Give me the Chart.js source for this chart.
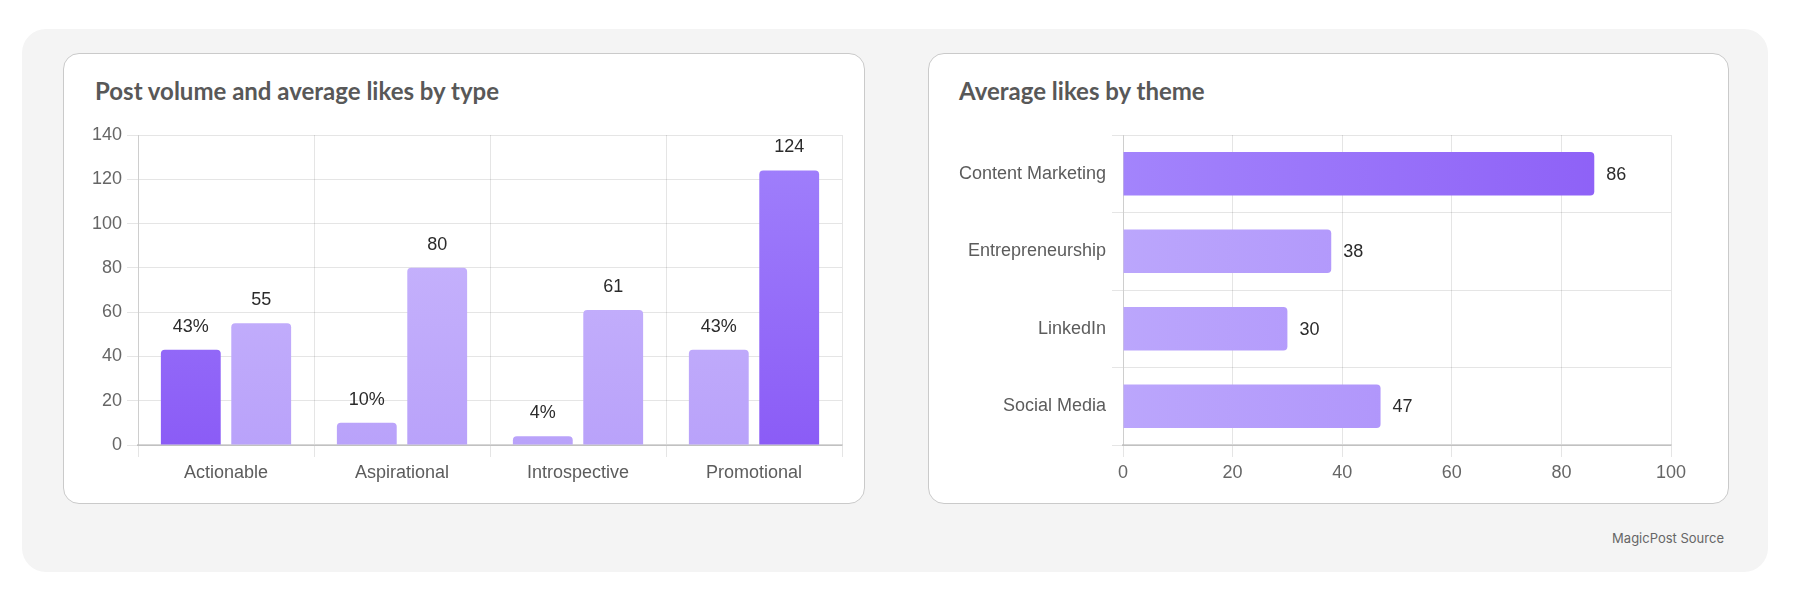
<!DOCTYPE html>
<html>
<head>
<meta charset="utf-8">
<script src="https://cdn.jsdelivr.net/npm/chart.js@4.4.1/dist/chart.umd.min.js"></script>
<style>
  html, body { margin: 0; padding: 0; background: #fff; }
  body { width: 1806px; height: 608px; position: relative; overflow: hidden; }
  .panel { position: absolute; left: 22px; top: 29px; width: 1746px; height: 543px; background: #f4f4f4; border-radius: 24px; }
  .card { position: absolute; top: 53px; height: 451px; background: #fff; border: 1.5px solid #cacaca; border-radius: 16px; box-sizing: border-box; }
  .title { position: absolute; font-family: Lato, "Open Sans", sans-serif; font-weight: 700; font-size: 24px; color: #585858; line-height: 30px; margin: 0; white-space: nowrap; }
  .chartbox { position: absolute; top: 115px; width: 785px; height: 385px; }
  .source { position: absolute; right: 82px; top: 529px; font-family: Inter, Roboto, sans-serif; font-size: 13px; color: #666; line-height: 18px; }
</style>
</head>
<body>
<div class="panel"></div>
<div class="card" style="left:63px; width:802px;"></div>
<div class="card" style="left:928px; width:801px;"></div>
<h2 class="title" style="left:95px; top:76px;">Post volume and average likes by type</h2>
<h2 class="title" style="left:959px; top:76px;">Average likes by theme</h2>
<div class="chartbox" style="left:70px;"><canvas id="typeChart"></canvas></div>
<div class="chartbox" style="left:935px;"><canvas id="themeChart"></canvas></div>
<div class="source">MagicPost Source</div>

<script>
// data
var postTypes = ['Actionable', 'Aspirational', 'Introspective', 'Promotional'];
var postVolumePct = [43, 10, 4, 43];
var avgLikesByType = [55, 80, 61, 124];
var volumeHighlight = [true, false, false, false];
var likesHighlight = [false, false, false, true];

var themes = ['Content Marketing', 'Entrepreneurship', 'LinkedIn', 'Social Media'];
var avgLikesByTheme = [86, 38, 30, 47];
var themeHighlight = [true, false, false, false];

var typeAxisMax = 140;
var themeAxisMax = 100;
var tickStep = 20;

Chart.defaults.font.family = '"Liberation Sans", Arial, Helvetica, sans-serif';
Chart.defaults.font.size = 18;
Chart.defaults.color = '#666';
Chart.defaults.animation = false;

function verticalFill(highlight) {
    return function (ctx) {
        var area = ctx.chart.chartArea;
        var dark = highlight[ctx.dataIndex];
        if (!area) return dark ? '#9163f9' : '#bea8fb';
        var g = ctx.chart.ctx.createLinearGradient(0, area.top, 0, area.bottom);
        if (dark) {
            g.addColorStop(0, '#a182fc');
            g.addColorStop(1, '#8b5cf6');
        } else {
            g.addColorStop(0, '#ccbafd');
            g.addColorStop(1, '#b9a2fa');
        }
        return g;
    };
}

function horizontalFill(highlight) {
    return function (ctx) {
        var area = ctx.chart.chartArea;
        var dark = highlight[ctx.dataIndex];
        if (!area) return dark ? '#9668fa' : '#b49cfb';
        var g = ctx.chart.ctx.createLinearGradient(area.left, 0, area.right, 0);
        if (dark) {
            g.addColorStop(0, '#a384fc');
            g.addColorStop(1, '#8b5cf6');
        } else {
            g.addColorStop(0, '#bba6fc');
            g.addColorStop(1, '#a585fa');
        }
        return g;
    };
}

// value labels above / beside the bars
var valueLabels = {
    id: 'valueLabels',
    afterDatasetsDraw: function (chart, args, opts) {
        var ctx = chart.ctx;
        ctx.save();
        ctx.font = '18px "Liberation Sans", Arial, sans-serif';
        ctx.fillStyle = '#2b2b2b';
        chart.data.datasets.forEach(function (ds, i) {
            var meta = chart.getDatasetMeta(i);
            meta.data.forEach(function (bar, j) {
                var text = ds.data[j] + (ds.suffix || '');
                if (opts.horizontal) {
                    ctx.textAlign = 'left';
                    ctx.textBaseline = 'middle';
                    ctx.fillText(text, bar.x + 12, bar.y + 1);
                } else {
                    ctx.textAlign = 'center';
                    ctx.textBaseline = 'middle';
                    ctx.fillText(text, bar.x, bar.y - 23);
                }
            });
        });
        ctx.restore();
    }
};

var gridColor = 'rgba(0,0,0,0.1)';

new Chart(document.getElementById('typeChart'), {
    type: 'bar',
    data: {
        labels: postTypes,
        datasets: [{
            label: 'Post volume',
            data: postVolumePct,
            suffix: '%',
            backgroundColor: verticalFill(volumeHighlight),
            borderRadius: 4,
            categoryPercentage: 0.8,
            barPercentage: 0.85
        }, {
            label: 'Average likes',
            data: avgLikesByType,
            backgroundColor: verticalFill(likesHighlight),
            borderRadius: 4,
            categoryPercentage: 0.8,
            barPercentage: 0.85
        }]
    },
    options: {
        responsive: true,
        maintainAspectRatio: false,
        layout: { padding: { top: 20, right: 13, left: 0, bottom: 0 } },
        plugins: { legend: { display: false }, tooltip: { enabled: false }, valueLabels: { horizontal: false } },
        scales: {
            x: {
                grid: { color: gridColor, tickLength: 12 },
                border: { color: 'rgba(0,0,0,0.16)', width: 2 },
                ticks: { padding: 5, color: '#5c5c5c' },
                afterFit: function (s) { s.height = 55; }
            },
            y: {
                min: 0, max: typeAxisMax,
                grid: { color: gridColor, tickLength: 11 },
                border: { color: gridColor },
                ticks: { stepSize: tickStep, padding: 5 },
                afterFit: function (s) { s.width = 68; }
            }
        }
    },
    plugins: [valueLabels]
});

new Chart(document.getElementById('themeChart'), {
    type: 'bar',
    data: {
        labels: themes,
        datasets: [{
            label: 'Average likes',
            data: avgLikesByTheme,
            backgroundColor: horizontalFill(themeHighlight),
            borderRadius: 4,
            categoryPercentage: 0.8,
            barPercentage: 0.7
        }]
    },
    options: {
        indexAxis: 'y',
        responsive: true,
        maintainAspectRatio: false,
        layout: { padding: { top: 20, right: 49, left: 0, bottom: 0 } },
        plugins: { legend: { display: false }, tooltip: { enabled: false }, valueLabels: { horizontal: true } },
        scales: {
            x: {
                min: 0, max: themeAxisMax,
                grid: { color: gridColor, tickLength: 12 },
                border: { color: 'rgba(0,0,0,0.16)', width: 2 },
                ticks: { stepSize: tickStep, padding: 5 },
                afterFit: function (s) { s.height = 55; }
            },
            y: {
                grid: { color: gridColor, tickLength: 11 },
                border: { color: gridColor },
                ticks: { padding: 6, color: '#5c5c5c' },
                afterFit: function (s) { s.width = 188; }
            }
        }
    },
    plugins: [valueLabels]
});
</script>
</body>
</html>
